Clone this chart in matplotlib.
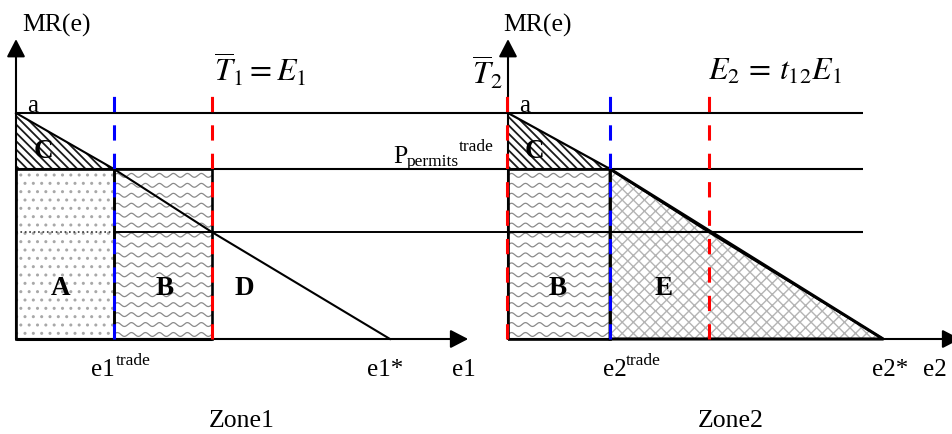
import numpy as np
import matplotlib
matplotlib.use("Agg")
import matplotlib.pyplot as plt
from matplotlib.patches import Polygon, Rectangle, FancyArrowPatch

plt.rcParams['font.family'] = ['Liberation Serif', 'DejaVu Serif']
plt.rcParams['mathtext.fontset'] = 'stix'
plt.rcParams['hatch.linewidth'] = 1.0

# ---------------- data (economic units) ----------------
mr_levels = [10.0, 7.52, 4.73]          # a, P_permits^trade, MR at the cap
zone1_e = [0.0, 2.62, 5.24, 10.0]       # 0, e1_trade, T1 = E1, e1*
zone1_mr = [10.0, 7.52, 4.73, 0.0]
zone2_e = [0.0, 2.73, 5.37, 10.03]      # 0, e2_trade, E2 = t12 E1, e2*
zone2_mr = [10.0, 7.52, 4.73, 0.0]
cap_zone2 = -0.03                       # T2 bar (at the axis)
dash_top = 10.84
axis_e_max = 12.09
axis_mr_max = 13.27
line_end_zone2 = 9.49

# ---------------- layout ----------------
W, H = 952, 435
SX, SY = 37.4, 22.6          # px per unit
fig = plt.figure(figsize=(W / 100, H / 100), dpi=100)
fig.patch.set_facecolor('white')

ax1 = fig.add_axes([0, 0, 508 / W, 1])
ax1.set_xlim(-16 / SX, 492 / SX)
ax2 = fig.add_axes([508 / W, 0, 444 / W, 1])
ax2.set_xlim(0, 444 / SX)
for ax in (ax1, ax2):
    ax.set_ylim(-95 / SY, 340 / SY)
    ax.axis('off')
    ax.set_facecolor('none')

a_lvl, p_lvl, m_lvl = mr_levels
BLUE, RED = '#0000ff', '#ff0000'
DASH = (0, (5, 4.3))


def wave_texture(ax, x0, x1, y0, y1, clip):
    xs = np.linspace(x0 - 0.2, x1 + 0.2, 800)
    for yr in np.arange(y0 + 0.2, y1 + 0.3, 0.44):
        ys = yr + 0.085 * np.sin(2 * np.pi * xs / 0.374)
        ln, = ax.plot(xs, ys, color='#8a8a8a', lw=0.9, zorder=1)
        ln.set_clip_path(clip)


def arrows(ax, xmax):
    st = '-|>,head_length=10.8,head_width=5.6'
    ax.add_patch(FancyArrowPatch((0, 0), (0, axis_mr_max), arrowstyle=st,
                                 mutation_scale=1, lw=1.5, color='k',
                                 shrinkA=0, shrinkB=0, clip_on=False, zorder=5))
    ax.add_patch(FancyArrowPatch((0, 0), (xmax, 0), arrowstyle=st,
                                 mutation_scale=1, lw=1.5, color='k',
                                 shrinkA=0, shrinkB=0, clip_on=False, zorder=5))


def c_hatch(ax, pts):
    with plt.rc_context({'hatch.linewidth': 1.3}):
        ax.add_patch(Polygon(pts, closed=True, facecolor='none', edgecolor='#1a1a1a',
                             lw=0, hatch='\\\\\\\\', zorder=1))


# ================= Zone 1 =================
e0, e1t, T1, e1s = zone1_e
rectA = Rectangle((0, 0), e1t, p_lvl, facecolor='none', edgecolor='k', lw=1.9, zorder=4)
rectB = Rectangle((e1t, 0), T1 - e1t, p_lvl, facecolor='none', edgecolor='k', lw=1.9, zorder=4)
ax1.add_patch(rectA)
ax1.add_patch(rectB)
ax1.add_patch(Rectangle((0, 0), e1t, p_lvl, facecolor='none', edgecolor='#a8a8a8',
                        lw=0, hatch='..', zorder=1))
wave_texture(ax1, e1t, T1, 0, p_lvl, rectB)
c_hatch(ax1, [(0, a_lvl), (0, p_lvl), (e1t, p_lvl)])

xr = ax1.get_xlim()[1]
ax1.hlines([a_lvl, p_lvl], 0, xr, colors='k', lw=1.5, zorder=3)
ax1.hlines(m_lvl, 0, e1t, colors='#333333', lw=1.2, linestyles=':', zorder=3)
ax1.hlines(m_lvl, e1t, xr, colors='k', lw=1.4, zorder=3)
ax1.plot(zone1_e, zone1_mr, color='k', lw=1.5, zorder=3)
ax1.vlines([e1t], 0, dash_top, colors=BLUE, lw=2.2, linestyles=[DASH], zorder=6)
ax1.vlines([T1], 0, dash_top, colors=RED, lw=2.2, linestyles=[DASH], zorder=6)
ax1.hlines(0, 0, T1, colors='k', lw=2.2, zorder=4)
arrows(ax1, axis_e_max)

ax1.text(0.16, 13.63, 'MR(e)', fontsize=18.5, va='baseline', ha='left')
ax1.text(0.29, 10.09, 'a', fontsize=18, va='baseline', ha='left')
ax1.text(6.52, 11.42, r'$\overline{T}_1 = E_1$', fontsize=23, va='baseline', ha='center')
ax1.text(10.08, 7.83, 'P', fontsize=18.5, va='baseline', ha='left')
ax1.text(10.45, 7.70, 'permits', fontsize=12.5, va='baseline', ha='left')
ax1.text(11.84, 8.36, 'trade', fontsize=12.5, va='baseline', ha='left')
for s, x, y in [('C', 0.74, 8.32), ('A', 1.20, 2.26), ('B', 3.98, 2.26), ('D', 6.10, 2.26)]:
    ax1.text(x, y, s, fontsize=19.5, fontweight='bold', ha='center', va='center', zorder=7)
ax1.text(2.0, -1.59, 'e1', fontsize=18, va='baseline', ha='left')
ax1.text(2.66, -1.11, 'trade', fontsize=12.5, va='baseline', ha='left')
ax1.text(9.39, -1.59, 'e1*', fontsize=18, va='baseline', ha='left')
ax1.text(11.66, -1.59, 'e1', fontsize=18, va='baseline', ha='left')
ax1.text(6.03, -3.85, 'Zone1', fontsize=18.5, va='baseline', ha='center')

# ================= Zone 2 =================
f0, e2t, E2, e2s = zone2_e
rectB2 = Rectangle((0, 0), e2t, p_lvl, facecolor='none', edgecolor='k', lw=1.9, zorder=4)
ax2.add_patch(rectB2)
wave_texture(ax2, 0, e2t, 0, p_lvl, rectB2)
c_hatch(ax2, [(0, a_lvl), (0, p_lvl), (e2t, p_lvl)])
ax2.add_patch(Polygon([(e2t, p_lvl), (e2s, 0), (e2t, 0)], closed=True,
                      facecolor='none', edgecolor='#b4b4b4', lw=0, hatch='xxx', zorder=1))
ax2.add_patch(Polygon([(e2t, p_lvl), (e2s, 0), (e2t, 0)], closed=True,
                      facecolor='none', edgecolor='k', lw=2.2, zorder=4))

ax2.hlines([a_lvl, p_lvl, m_lvl], 0, line_end_zone2, colors='k', lw=1.5, zorder=3)
ax2.plot(zone2_e, zone2_mr, color='k', lw=1.6, zorder=3)
ax2.vlines([e2t], 0, dash_top, colors=BLUE, lw=2.2, linestyles=[DASH], zorder=6)
ax2.vlines([cap_zone2, E2], 0, dash_top, colors=RED, lw=2.2, linestyles=[DASH],
           zorder=6, clip_on=False)
arrows(ax2, axis_e_max)

ax2.text(-0.13, 13.63, 'MR(e)', fontsize=18.5, va='baseline', ha='left')
ax2.text(0.29, 10.09, 'a', fontsize=18, va='baseline', ha='left')
ax2.text(-0.13, 11.3, r'$\overline{T}_2$', fontsize=23, va='baseline', ha='right')
ax2.text(7.14, 11.5, r'$E_2\, =\, t_{12}E_1$', fontsize=23, va='baseline', ha='center')
for s, x, y in [('C', 0.72, 8.32), ('B', 1.34, 2.26), ('E', 4.17, 2.26)]:
    ax2.text(x, y, s, fontsize=19.5, fontweight='bold', ha='center', va='center', zorder=7)
ax2.text(2.54, -1.59, 'e2', fontsize=18, va='baseline', ha='left')
ax2.text(3.14, -1.11, 'trade', fontsize=12.5, va='baseline', ha='left')
ax2.text(9.73, -1.59, 'e2*', fontsize=18, va='baseline', ha='left')
ax2.text(11.10, -1.59, 'e2', fontsize=18, va='baseline', ha='left')
ax2.text(5.96, -3.85, 'Zone2', fontsize=18.5, va='baseline', ha='center')

fig.savefig('out.png', dpi=100, facecolor='white')
